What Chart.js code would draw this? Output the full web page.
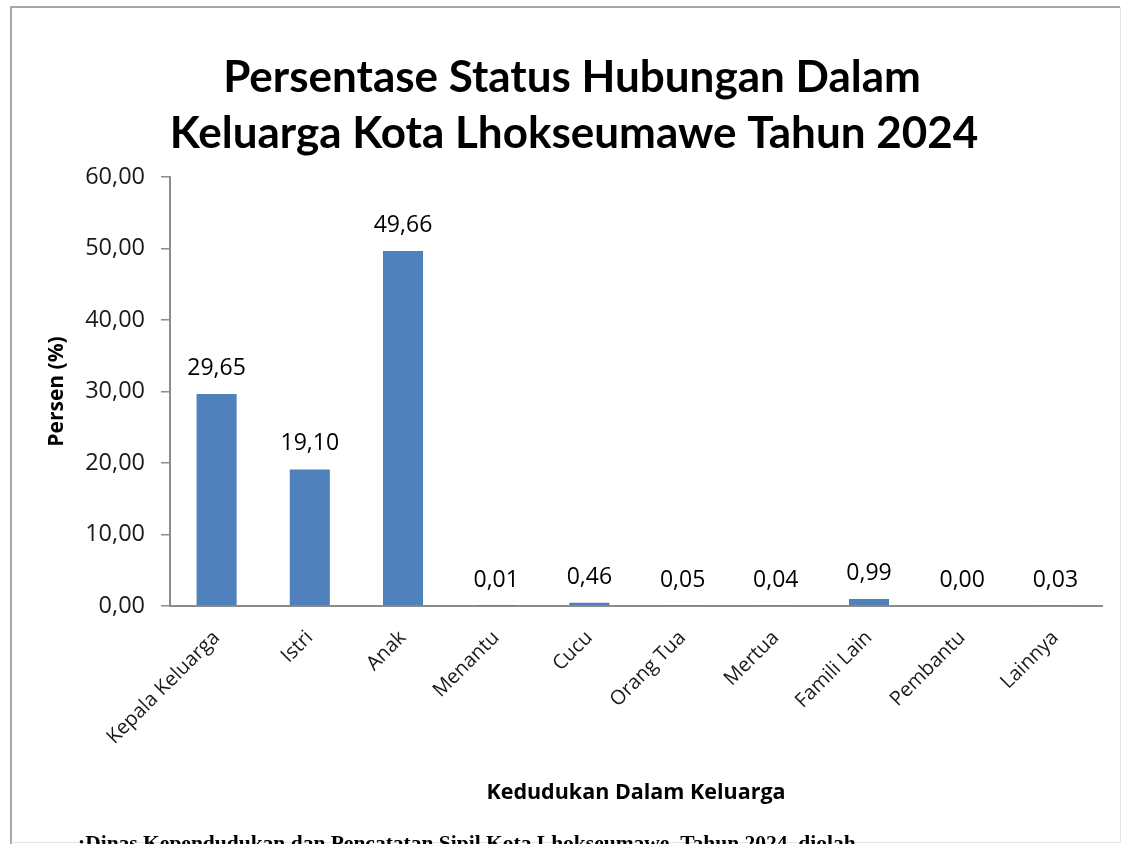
<!DOCTYPE html>
<html><head><meta charset="utf-8">
<script src="https://cdn.jsdelivr.net/npm/chart.js@4.4.0/dist/chart.umd.min.js"></script>
<style>html,body{margin:0;padding:0;background:#fff;overflow:hidden}#wrap{width:1126px;height:844px;position:relative}canvas{display:block}</style>
</head><body><div id="wrap"><canvas id="c" width="1126" height="844"></canvas></div>
<script>
const categories = ['Kepala Keluarga','Istri','Anak','Menantu','Cucu','Orang Tua','Mertua','Famili Lain','Pembantu','Lainnya'];
const values = [29.65, 19.10, 49.66, 0.01, 0.46, 0.05, 0.04, 0.99, 0.00, 0.03];
const yTicks = [0, 10, 20, 30, 40, 50, 60];
const titleLines = ['Persentase Status Hubungan Dalam', 'Keluarga Kota Lhokseumawe Tahun 2024'];
const yTitle = 'Persen (%)';
const xTitle = 'Kedudukan Dalam Keluarga';
const sourceText = ':Dinas Kependudukan dan Pencatatan Sipil Kota Lhokseumawe, Tahun 2024, diolah';

const fmt = v => Number(v).toFixed(2).replace('.', ',');
const TFONT = "Lato, 'Open Sans', sans-serif";
const FONT = "'Open Sans', 'Noto Sans', sans-serif";

const decor = {
  id: 'decor',
  beforeDraw(chart) {
    const ctx = chart.ctx;
    ctx.save();
    ctx.fillStyle = '#fff';
    ctx.fillRect(0, 0, chart.width, chart.height);
    ctx.restore();
  },
  afterDraw(chart) {
    const ctx = chart.ctx;
    ctx.save();
    // frame
    ctx.strokeStyle = '#a6a6a6';
    ctx.lineWidth = 2;
    ctx.beginPath();
    ctx.moveTo(11, 846); ctx.lineTo(11, 7); ctx.lineTo(1120, 7);
    ctx.stroke();
    ctx.strokeStyle = '#e4e4e4';
    ctx.lineWidth = 1;
    ctx.beginPath();
    ctx.moveTo(1120.5, 7); ctx.lineTo(1120.5, 842.5); ctx.lineTo(11, 842.5);
    ctx.stroke();
    // title
    ctx.fillStyle = '#000';
    ctx.textAlign = 'center';
    ctx.textBaseline = 'alphabetic';
    ctx.font = "bold 44px " + TFONT;
    ctx.fillText(titleLines[0], 572, 92);
    ctx.fillText(titleLines[1], 574, 148);
    // source
    ctx.textAlign = 'left';
    ctx.font = "bold 21.5px 'Liberation Serif', 'Times New Roman', serif";
    ctx.fillText(sourceText, 78, 850);
    ctx.restore();
  }
};

const dataLabels = {
  id: 'dataLabels',
  afterDatasetsDraw(chart) {
    const ctx = chart.ctx;
    const meta = chart.getDatasetMeta(0);
    ctx.save();
    ctx.fillStyle = '#000';
    ctx.font = "23px " + FONT;
    ctx.textAlign = 'center';
    ctx.textBaseline = 'bottom';
    meta.data.forEach((el, i) => {
      ctx.fillText(fmt(values[i]), el.x, el.y - 14);
    });
    ctx.restore();
  }
};

new Chart(document.getElementById('c'), {
  type: 'bar',
  data: {
    labels: categories,
    datasets: [{
      data: values,
      backgroundColor: '#4F81BD',
      borderWidth: 0,
      categoryPercentage: 1.0,
      barPercentage: 0.43
    }]
  },
  options: {
    responsive: false,
    animation: false,
    devicePixelRatio: 1,
    layout: { padding: { top: 177, right: 24, left: 0, bottom: 0 } },
    plugins: { legend: { display: false }, tooltip: { enabled: false }, title: { display: false } },
    scales: {
      x: {
        afterFit(s) { s.height = 238; },
        grid: { display: false, drawTicks: false },
        border: { display: true, color: '#8c8c8c', width: 2 },
        ticks: {
          color: '#1a1a1a',
          font: { family: FONT, size: 20 },
          maxRotation: 45, minRotation: 45,
          padding: 20,
          autoSkip: false
        },
        title: {
          display: true, text: xTitle, color: '#000',
          font: { family: FONT, size: 21.5, weight: 'bold' },
          padding: { top: 0, bottom: 38 }
        }
      },
      y: {
        min: 0, max: 60,
        afterFit(s) { s.width = 170; },
        afterBuildTicks(s) { s.ticks = yTicks.map(v => ({ value: v })); },
        grid: { drawOnChartArea: false, drawTicks: true, tickLength: 9, color: '#8c8c8c', lineWidth: 1.5 },
        border: { display: true, color: '#8c8c8c', width: 2 },
        ticks: {
          color: '#1a1a1a',
          font: { family: FONT, size: 23.5 },
          padding: 16,
          callback: v => fmt(v)
        },
        title: {
          display: true, text: yTitle, color: '#000',
          font: { family: FONT, size: 21, weight: 'bold' },
          padding: { top: 44, bottom: 0 }
        }
      }
    }
  },
  plugins: [decor, dataLabels]
});
</script></body></html>
